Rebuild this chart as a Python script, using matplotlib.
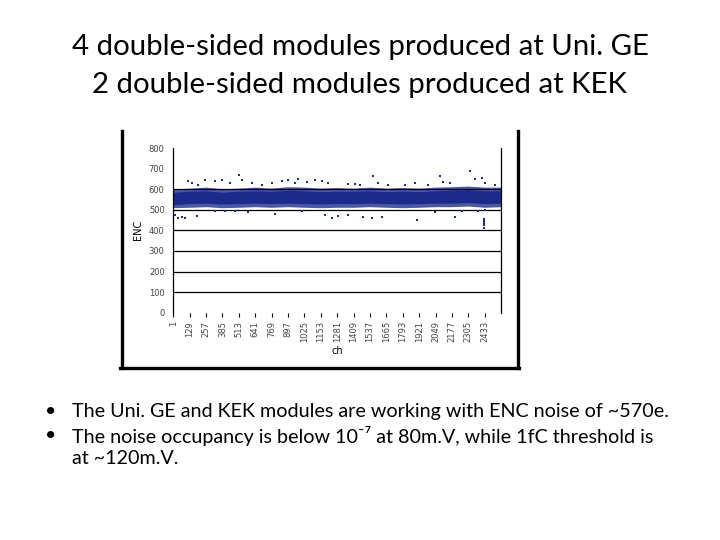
import numpy as np
import matplotlib
matplotlib.use('Agg')
import matplotlib.pyplot as plt
from matplotlib.lines import Line2D

plt.rcParams['font.family'] = ['Lato', 'DejaVu Sans']

title_lines = ['4 double-sided modules produced at Uni. GE',
               '2 double-sided modules produced at KEK']
bullet_lines = ['The Uni. GE and KEK modules are working with ENC noise of ~570e.',
                'The noise occupancy is below 10\u207b\u2077 at 80m.V, while 1fC threshold is',
                'at ~120m.V.']

# dense noise band, every 128 channels
band_ch = [0, 128, 256, 384, 512, 640, 768, 896, 1024, 1152, 1280, 1408,
           1536, 1664, 1792, 1920, 2048, 2176, 2304, 2432, 2560]
band_lo = [510, 512, 515, 510, 512, 515, 512, 515, 512, 510, 512, 512,
           515, 512, 510, 512, 515, 515, 518, 512, 515]
band_hi = [600, 605, 610, 602, 605, 610, 605, 612, 610, 605, 608, 605,
           610, 605, 608, 605, 610, 612, 615, 610, 610]
core_lo = [525, 530, 532, 528, 530, 532, 530, 532, 530, 528, 530, 530,
           532, 530, 528, 530, 532, 532, 535, 530, 532]
core_hi = [585, 590, 592, 585, 590, 592, 590, 595, 592, 588, 590, 590,
           592, 588, 590, 588, 592, 595, 598, 592, 592]

# scattered channels outside the band
out_ch = [120, 146, 198, 250, 328, 380, 445, 515, 536, 614, 692, 770, 848,
          900, 952, 978, 1043, 1108, 1160, 1212, 1368, 1420, 1459, 1563,
          1602, 1680, 1810, 1888, 1992, 2083, 2109, 2161, 2317, 2356, 2408,
          2434, 2512,
          16, 42, 68, 94, 185, 328, 406, 484, 588, 796, 1004, 1186, 1238,
          1290, 1368, 1485, 1550, 1628, 1901, 2044, 2200, 2252, 2382, 2428,
          2428, 2428, 2434, 2428, 2430]
out_val = [638, 630, 622, 646, 638, 646, 630, 670, 646, 630, 622, 630, 638,
           646, 630, 649, 633, 646, 638, 630, 626, 626, 622, 662,
           630, 622, 622, 630, 622, 662, 633, 630, 687, 649, 654,
           630, 622,
           476, 460, 464, 460, 471, 492, 492, 492, 487, 480, 492, 476, 460,
           471, 476, 467, 460, 464, 451, 487, 464, 492, 492, 455,
           435, 411, 500, 445, 425]

x_ticks = list(range(1, 2560, 128))
y_ticks = list(range(0, 900, 100))
grid_vals = [100, 200, 300, 400, 500, 600]

fig = plt.figure(figsize=(7.2, 5.4), dpi=100)

fig.text(0.5, 1-47/540, title_lines[0], ha='center', va='center', fontsize=21.2)
fig.text(0.5, 1-85/540, title_lines[1], ha='center', va='center', fontsize=21.2)

# picture frame (left, right, bottom)
fw = 2.4
fig.add_artist(Line2D([121.5/720, 121.5/720], [1-131/540, 1-368/540], lw=fw, color='black'))
fig.add_artist(Line2D([517.5/720, 517.5/720], [1-131/540, 1-368/540], lw=fw, color='black'))
fig.add_artist(Line2D([120/720, 519/720], [1-367.5/540, 1-367.5/540], lw=fw, color='black'))

ax = fig.add_axes([173/720, 1-312.7/540, 328/720, 164.7/540])
navy = '#1c2a8c'
ax.fill_between(band_ch, band_lo, band_hi, color='#4a58a8', lw=0, zorder=1)
ax.fill_between(band_ch, core_lo, core_hi, color=navy, lw=0, zorder=1)
ax.scatter(out_ch, out_val, s=1.0, color=navy, marker='s', lw=0, zorder=3)
for g in grid_vals:
    ax.axhline(g, color='black', lw=0.9, zorder=2)

ax.set_xlim(0, 2560)
ax.set_ylim(0, 800)
ax.set_xticks(x_ticks)
ax.set_xticklabels([str(t) for t in x_ticks], rotation=90, fontsize=6,
                   family='DejaVu Sans', color='#444444')
ax.set_yticks(y_ticks)
ax.set_yticklabels([str(t) for t in y_ticks], fontsize=6,
                   family='DejaVu Sans', color='#444444')
ax.tick_params(axis='x', length=3, width=0.8, direction='out', pad=3)
ax.tick_params(axis='y', length=0, pad=6)
ax.spines['top'].set_visible(False)
ax.spines['bottom'].set_visible(False)
ax.spines['left'].set_linewidth(0.9)
ax.spines['right'].set_linewidth(0.9)
ax.set_xlabel('ch', fontsize=7, family='DejaVu Sans', labelpad=3)
ax.set_ylabel('ENC', fontsize=7, family='DejaVu Sans', labelpad=4)

# bullets
bullet_y = [412, 436, 459]
for i, line in enumerate(bullet_lines):
    if i < 2:
        fig.text(45/720, 1-bullet_y[i]/540, '\u2022', fontsize=14, va='center')
    fig.text(72/720, 1-bullet_y[i]/540, line, fontsize=14.2, va='center')

fig.savefig('out.png', dpi=100)
